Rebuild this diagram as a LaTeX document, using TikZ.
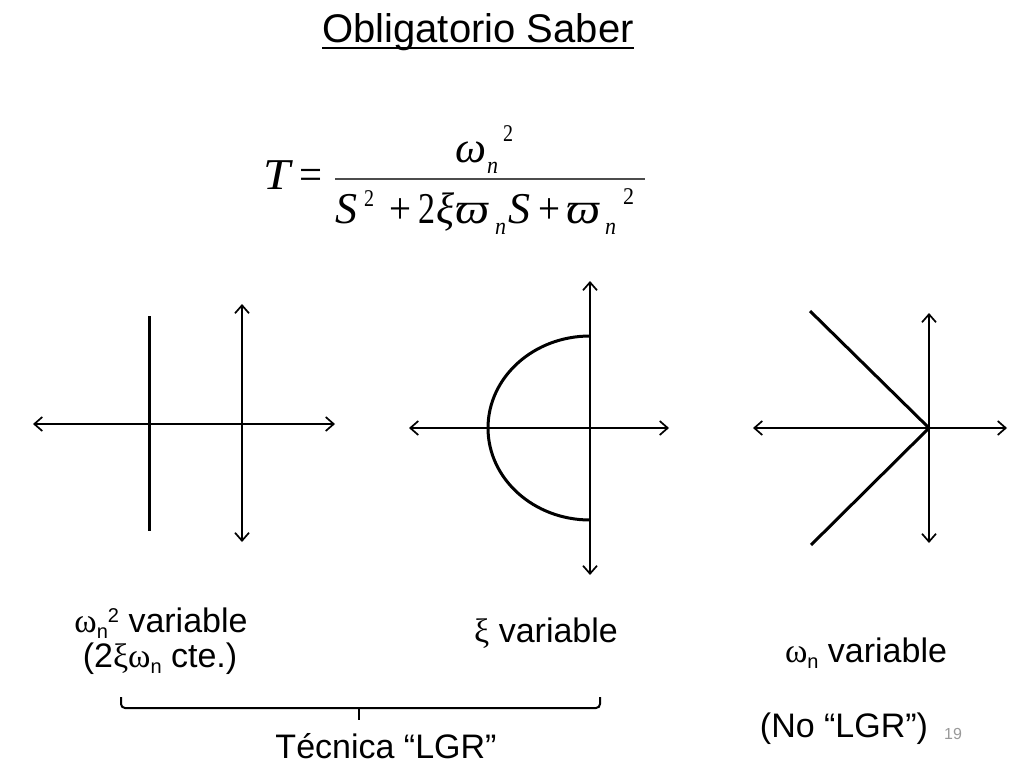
\documentclass[tikz,border=0pt]{standalone}
\usepackage{graphicx}
\usepackage{fontspec}
\setmainfont{Liberation Sans}
\newfontfamily\tnr{Liberation Serif}
\usetikzlibrary{arrows.meta}
\newcommand\grk[1]{{\tnr #1}}
\newcommand\lsub[1]{\raisebox{-6pt}{\fontsize{20}{20}\selectfont #1}}
\newcommand\lsup[1]{\raisebox{10pt}{\fontsize{20}{20}\selectfont #1}}
\newcommand\gw[2]{\resizebox{#1}{\height}{#2}}
\begin{document}
\begin{tikzpicture}[x=1pt,y=-1pt,
  axis/.style={line width=1.7pt, {Straight Barb[length=8pt,width=14pt]}-{Straight Barb[length=8pt,width=14pt]}},
  locus/.style={line width=3pt},
  lbl/.style={font=\fontsize{34}{38}\selectfont, inner sep=0, anchor=base},
  eq/.style={font=\fontsize{44}{46}\selectfont\tnr\itshape, inner sep=0, anchor=base west},
  equp/.style={font=\fontsize{44}{46}\selectfont\tnr, inner sep=0, anchor=base west},
  eqsub/.style={font=\fontsize{24}{26}\selectfont\tnr\itshape, inner sep=0, anchor=base west},
  eqsup/.style={font=\fontsize{24}{26}\selectfont\tnr, inner sep=0, anchor=base west},
  bracestyle/.style={line width=2pt, rounded corners=4pt}
  ]
\useasboundingbox (0,0) rectangle (1024,768);

% title
\node[font=\fontsize{40}{44}\selectfont, inner sep=0, anchor=base] (title) at (478,43) {Obligatorio Saber};
\draw[line width=2.5pt] ([yshift=-5pt]title.base west) -- ([yshift=-5pt]title.base east);

% formula
\node[eq] (T) at (263,189) {\gw{27pt}{T}};
\node[equp] (eqs) at (299,189) {\gw{23pt}{=}};
\draw[line width=1.1pt, black!70] (335,179) -- (645,179);
\node[eq] (w1) at (455,162) {\gw{31pt}{ω}};
\node[eqsub] (n1) at (487,173) {\gw{11pt}{n}};
\node[eqsup] (s1) at (503,141) {\gw{10pt}{2}};
\node[eq] (S1) at (335,223) {\gw{22pt}{S}};
\node[eqsup] (s2) at (364,206) {\gw{10pt}{2}};
\node[equp] (p1) at (389,223) {\gw{22pt}{+}};
\node[equp] (two) at (418,223) {\gw{17pt}{2}};
\node[eq] (xi) at (436,223) {\gw{18pt}{ξ}};
\node[eq] (vp1) at (455,223) {\gw{34pt}{ϖ}};
\node[eqsub] (n2) at (495,234) {\gw{11pt}{n}};
\node[eq] (S2) at (508,223) {\gw{22pt}{S}};
\node[equp] (p2) at (538,223) {\gw{22pt}{+}};
\node[eq] (vp2) at (566,223) {\gw{34pt}{ϖ}};
\node[eqsub] (n3) at (605,234) {\gw{11pt}{n}};
\node[eqsup] (s3) at (623,204) {\gw{11pt}{2}};

% diagram 1
\draw[axis] (33,424) -- (335,424);
\draw[axis] (242,304) -- (242,542);
\draw[locus] (149,316) -- (149,531);

% diagram 2
\draw[axis] (409,428) -- (669,428);
\draw[axis] (590,281) -- (590,575);
\draw[locus] (590,336) arc[start angle=270, end angle=90, x radius=102, y radius=92];

% diagram 3
\draw[axis] (753,428) -- (1007,428);
\draw[axis] (929,313) -- (929,543);
\draw[locus, line join=miter] (810,311) -- (929,428) -- (811,545);

% labels
\node[lbl] (l1a) at (161,632) {\grk{ω}\lsub{n}\lsup{2} variable};
\node[lbl] (l1b) at (160,667) {(2\grk{ξω}\lsub{n} cte.)};
\node[lbl] (l2) at (546,642) {\grk{ξ} variable};
\node[lbl] (l3a) at (866,662) {\grk{ω}\lsub{n} variable};
\node[lbl] (l3b) at (844,737) {(No “LGR”)};
\node[font=\fontsize{16}{18}\selectfont, text=black!40, inner sep=0, anchor=base] (pg) at (953,739) {19};

% brace
\draw[bracestyle] (121,697) -- (121,708) -- (600,708) -- (600,697);
\draw[line width=2pt] (359,708) -- (359,720);
\node[lbl] (lgr) at (386,758) {Técnica “LGR”};
\end{tikzpicture}
\end{document}
